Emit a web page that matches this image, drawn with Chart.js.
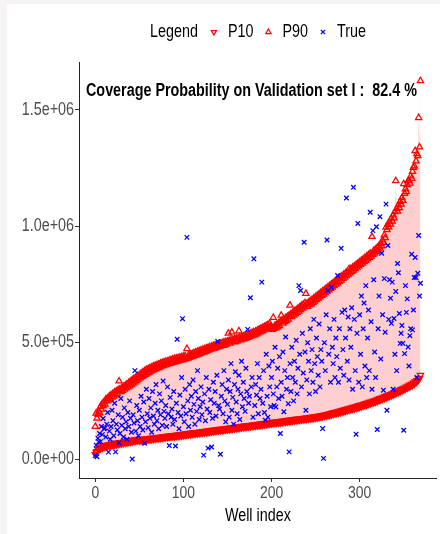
<!DOCTYPE html>
<html><head><meta charset="utf-8">
<script src="https://cdn.jsdelivr.net/npm/chart.js@4.4.1/dist/chart.umd.min.js"></script>
<style>
html,body{margin:0;padding:0;width:440px;height:534px;overflow:hidden;background:#f6f4f4;}
#panel{position:absolute;left:7px;top:4px;width:433px;height:530px;background:#fff;}
#wrap{position:absolute;left:0;top:0;width:442px;height:534px;}
</style></head><body>
<div id="panel"></div>
<div id="wrap"><canvas id="c" width="442" height="534"></canvas></div>
<script>
// values in thousands
const UNIT = 1000;
const seriesLabels = ['P10', 'P90', 'True'];
const titleText = 'Coverage Probability on Validation set I :  82.4 %';
const xTitle = 'Well index';
const xTickValues = [0, 100, 200, 300];
const yTickValues = [0, 500000, 1000000, 1500000];

const p10 = [
20,30,33,42,40,49,45,53,48,56,
51,58,53,60,55,62,57,63,58,65,
60,66,61,68,63,69,64,70,66,72,
67,73,68,75,70,76,71,77,73,79,
74,80,75,82,77,83,78,84,80,86,
78,84,79,85,80,86,81,87,82,88,
83,89,84,90,85,91,86,92,87,93,
88,93,89,94,90,95,91,96,92,97,
93,98,94,99,95,100,96,101,97,102,
97,103,98,104,99,105,100,106,101,107,
102,108,103,109,104,110,105,111,106,112,
107,113,108,114,109,115,110,116,111,117,
112,118,113,119,114,120,115,121,116,122,
117,123,118,124,119,125,120,126,121,127,
122,128,123,129,124,130,125,131,126,132,
127,133,128,134,129,135,130,136,131,137,
132,138,133,139,134,140,135,141,136,142,
137,143,138,144,139,145,140,146,141,147,
142,148,143,149,144,150,145,151,146,152,
147,153,148,154,149,155,150,156,151,157,
152,158,153,159,154,160,155,161,156,162,
157,163,158,164,159,165,160,166,161,167,
162,168,163,169,164,170,165,171,166,172,
167,173,168,174,169,175,170,176,171,177,
172,178,173,179,174,180,175,181,176,182,
177,183,178,184,180,186,181,187,183,189,
185,191,186,192,188,194,189,196,191,198,
193,200,195,202,197,204,199,206,201,208,
203,210,205,212,207,214,209,216,211,219,
213,221,215,223,217,225,219,227,221,230,
224,232,226,234,228,236,231,239,233,241,
236,244,238,246,241,249,243,251,246,254,
249,257,252,260,255,263,258,266,261,269,
264,272,267,275,270,278,273,281,277,285,
280,288,284,292,287,295,291,299,294,302,
298,306,302,310,306,314,310,318,314,322,
318,327,323,332,329,338,336,345,347,360
];

const p90 = [
140,197,175,192,205,198,226,214,238,229,
246,235,258,249,262,252,270,259,276,265,
281,270,288,275,292,280,297,335,301,289,
306,294,311,300,317,305,322,309,328,314,
334,319,340,325,346,331,351,336,357,342,
362,348,368,353,374,358,379,363,384,368,
388,372,392,377,395,381,399,384,402,388,
405,391,408,394,411,398,414,401,417,404,
419,406,421,409,424,411,426,413,429,416,
431,418,433,420,435,422,437,424,439,426,
441,428,443,431,474,433,447,436,450,439,
453,441,456,444,459,447,462,450,465,453,
468,456,470,459,473,462,476,465,479,468,
482,471,484,473,487,476,489,478,492,481,
494,483,497,486,499,488,502,490,504,493,
506,540,509,497,511,545,513,502,516,504,
518,507,521,550,523,511,526,514,528,516,
531,519,534,522,537,525,540,528,543,531,
546,534,549,537,553,541,557,545,561,549,
565,553,569,557,573,561,577,565,582,569,
568,556,608,561,574,563,579,567,584,572,
590,617,595,583,601,589,606,594,612,600,
617,660,623,611,629,617,635,623,641,629,
647,635,653,641,659,647,665,653,671,711,
667,655,673,661,679,666,685,672,691,678,
697,684,703,690,709,696,715,702,721,708,
727,714,733,720,739,726,745,732,751,738,
757,744,763,750,769,756,775,762,781,768,
787,775,793,781,799,787,805,793,817,799,
817,805,823,811,829,817,835,823,841,829,
847,835,853,841,859,847,865,853,871,859,
877,865,883,871,955,878,895,884,901,890,
908,897,916,905,925,915,940,930,962,950,
995,985,1008,996,1020,1008,1034,1021,1048,1035,
1062,1195,1076,1064,1091,1079,1106,1094,1122,1110,
1182,1140,1160,1148,1178,1195,1196,1184,1215,1205,
1235,1252,1258,1324,1280,1311,1302,1466,1340,1624
];

const trueVals = [
15,60,10,90,74,110,75,140,105,174,
130,133,95,150,200,30,120,85,140,210,
165,100,240,31,150,125,190,70,110,260,
145,180,95,220,130,160,85,200,140,250,
175,115,0,190,155,380,120,230,165,100,
210,140,270,180,125,245,68,160,300,195,
135,260,175,220,115,290,185,150,240,320,
165,210,130,280,190,250,145,335,205,175,
230,140,310,195,58,265,180,215,150,290,
170,56,240,515,200,130,275,185,350,603,
225,160,300,195,952,250,140,320,210,270,
180,340,235,150,290,205,380,260,170,225,
310,190,245,17,280,165,350,215,47,300,
200,255,52,175,330,240,290,185,360,505,
230,215,21,270,320,195,380,250,160,300,
235,340,180,290,410,210,265,150,320,375,
245,195,300,360,170,280,420,225,330,260,
205,390,290,557,240,270,693,310,350,180,
860,230,320,275,410,195,350,260,300,760,
240,380,200,167,450,270,180,400,310,225,
350,420,280,230,480,224,310,390,260,440,
110,330,270,460,203,380,524,300,350,238,
31,410,290,480,350,250,420,330,510,280,
390,745,450,724,310,540,370,931,460,210,
340,500,420,280,560,380,470,330,600,410,
290,520,440,360,580,310,470,420,131,3,
500,380,620,941,724,450,560,330,738,480,
410,600,350,520,440,788,330,560,390,905,
630,470,360,640,520,1121,420,610,340,560,
480,650,300,1167,600,380,107,540,1012,330,
620,450,700,310,560,670,400,745,350,520,
640,380,1060,590,300,981,770,460,350,998,
127,560,700,1041,430,884,620,296,775,545,
1095,210,917,600,770,691,583,760,300,604,
450,720,380,840,800,625,497,540,574,497,
124,453,745,630,688,481,400,530,560,880,
555,640,780,866,780,350,798,960,700,755
];

const FONT = "'Liberation Sans',Arial,sans-serif";
const NARROW = 0.82; // emulate a narrow (Arial Narrow-like) face
const RED = '#ff0000', BLUE = '#0000ff';
const toPts = arr => arr.map((v, i) => ({x: i, y: v * UNIT}));

// narrow text rendering on the chart canvas
const canvas = document.getElementById('c');
const g = canvas.getContext('2d');
const origFill = g.fillText.bind(g);
g.fillText = function (text, x, y, maxWidth) {
  const w = this.measureText(text).width * NARROW;
  origFill(text, x, y, (maxWidth !== undefined && maxWidth !== null) ? Math.min(maxWidth, w) : w);
};

function sci(v) {
  if (v === 0) return '0.0e+00';
  const e = Math.floor(Math.log10(Math.abs(v)));
  const m = (v / Math.pow(10, e)).toFixed(1);
  return m + 'e' + (e >= 0 ? '+' : '-') + String(Math.abs(e)).padStart(2, '0');
}

const markerStyles = {
  P10: {pointStyle: 'triangle', rotation: 180, radius: 3.6, borderWidth: 1.25, color: RED},
  P90: {pointStyle: 'triangle', rotation: 0, radius: 3.6, borderWidth: 1.25, color: RED},
  True: {pointStyle: 'crossRot', rotation: 0, radius: 3.2, borderWidth: 1.3, color: BLUE}
};

const overlayPlugin = {
  id: 'overlay',
  afterDraw(chart) {
    const c = chart.ctx;
    c.save();
    c.font = 'bold 17.5px ' + FONT;
    c.fillStyle = '#000';
    c.textBaseline = 'middle';
    c.textAlign = 'left';
    c.fillText(titleText, 86, 91);
    c.font = '17.5px ' + FONT;
    let x = 150;
    const y = 32;
    c.fillText('Legend', x, y);
    x += c.measureText('Legend').width * NARROW + 16;
    seriesLabels.forEach(lbl => {
      const s = markerStyles[lbl];
      c.strokeStyle = s.color;
      c.fillStyle = 'rgba(0,0,0,0)';
      c.lineWidth = s.borderWidth;
      Chart.helpers.drawPoint(c, {pointStyle: s.pointStyle, rotation: s.rotation, radius: 3, borderWidth: s.borderWidth}, x, y);
      x += 14;
      c.fillStyle = '#000';
      c.fillText(lbl, x, y);
      x += c.measureText(lbl).width * NARROW + 15;
    });
    c.restore();
  }
};

const scatterDs = (lbl, arr, order) => {
  const s = markerStyles[lbl];
  return {
    label: lbl, data: toPts(arr), order: order,
    pointStyle: s.pointStyle, rotation: s.rotation, radius: s.radius,
    borderColor: s.color, backgroundColor: 'rgba(0,0,0,0)', borderWidth: s.borderWidth
  };
};

new Chart(canvas, {
  type: 'scatter',
  data: {
    datasets: [
      {label: 'lower', type: 'line', data: toPts(p10), showLine: true, borderWidth: 0,
       borderColor: 'rgba(0,0,0,0)', pointRadius: 0, fill: false, order: 10},
      {label: 'band', type: 'line', data: toPts(p90), showLine: true, borderWidth: 0,
       borderColor: 'rgba(0,0,0,0)', pointRadius: 0, fill: '-1',
       backgroundColor: 'rgba(255,0,0,0.19)', order: 9},
      scatterDs('P10', p10, 3),
      scatterDs('P90', p90, 2),
      scatterDs('True', trueVals, 1)
    ]
  },
  options: {
    responsive: false, animation: false, devicePixelRatio: 1,
    layout: {padding: {top: 62, left: 0, right: 0, bottom: 0}},
    plugins: {legend: {display: false}, tooltip: {enabled: false}},
    scales: {
      x: {
        type: 'linear', min: -18.45, max: 387.45,
        afterBuildTicks: a => { a.ticks = xTickValues.map(v => ({value: v})); },
        afterFit: a => { a.height = 56; },
        grid: {drawOnChartArea: false, drawTicks: true, tickLength: 4, color: '#333'},
        border: {display: true, color: '#222', width: 1},
        ticks: {color: '#4d4d4d', font: {family: FONT, size: 17}, padding: 1, maxRotation: 0,
                callback: v => String(v)},
        title: {display: true, text: xTitle, color: '#000', font: {family: FONT, size: 17.5},
                padding: {top: 0, bottom: 7}}
      },
      y: {
        type: 'linear', min: -81200, max: 1705200,
        afterBuildTicks: a => { a.ticks = yTickValues.map(v => ({value: v})); },
        afterFit: a => { a.width = 79; },
        grid: {drawOnChartArea: false, drawTicks: true, tickLength: 4, color: '#333'},
        border: {display: true, color: '#222', width: 1},
        ticks: {color: '#4d4d4d', font: {family: FONT, size: 17.5}, padding: 1,
                callback: v => sci(v)}
      }
    }
  },
  plugins: [overlayPlugin]
});
</script>
</body></html>
